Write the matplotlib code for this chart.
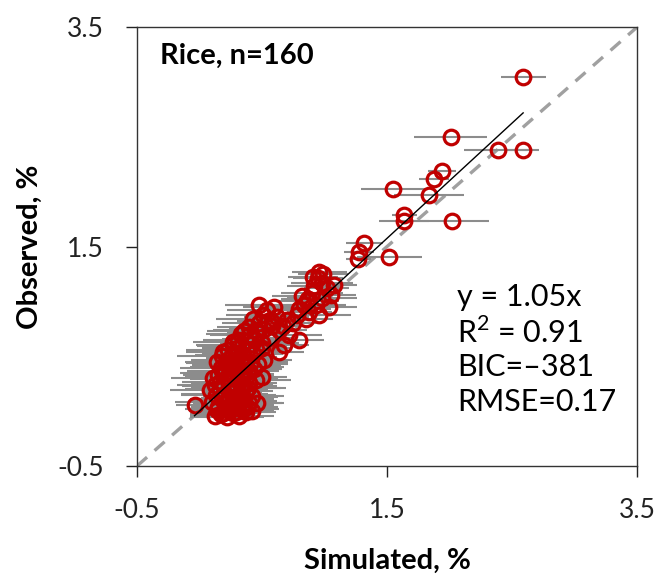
import numpy as np
import matplotlib
matplotlib.use("Agg")
import matplotlib.pyplot as plt

# simulated (x), observed (y), horizontal error (simulation spread)
sim_top = [2.59, 2.01, 2.39, 2.59, 1.94, 1.88, 1.55, 1.84, 1.64, 1.64,
           2.02, 1.32, 1.28, 1.27, 1.52, 0.96, 0.95]
obs_top = [3.05, 2.50, 2.38, 2.38, 2.19, 2.12, 2.03, 1.97, 1.79, 1.73,
           1.73, 1.53, 1.45, 1.39, 1.41, 1.27, 1.21]
err_top = [0.18, 0.29, 0.27, 0.13, 0.11, 0.12, 0.26, 0.28, 0.10, 0.20,
           0.30, 0.15, 0.12, 0.10, 0.26, 0.22, 0.20]

sim_mid = [0.98, 1.02, 0.92, 1.05, 0.90, 0.87, 0.98, 0.84, 0.93, 1.04,
           0.80, 0.88, 0.78, 0.96, 0.85, 1.08, 0.91, 0.82, 0.99, 0.86]
obs_mid = [1.17, 1.12, 1.14, 1.06, 1.08, 1.02, 1.03, 0.97, 0.97, 0.95,
           0.93, 0.90, 0.88, 0.88, 0.84, 1.15, 1.22, 1.05, 1.25, 1.00]
err_mid = [0.25, 0.18, 0.22, 0.20, 0.25, 0.22, 0.28, 0.20, 0.24, 0.22,
           0.25, 0.18, 0.20, 0.25, 0.22, 0.18, 0.20, 0.24, 0.20, 0.26]

sim_low = [0.12, 0.17, 0.22, 0.27, 0.32, 0.37, 0.42, 0.20, 0.30, 0.25,
           0.15, 0.10, 0.35, 0.40, 0.46, 0.28, 0.18, 0.23, 0.33, -0.04,
           0.13, 0.20, 0.26, 0.31, 0.37, 0.42, 0.08, 0.16, 0.29, 0.35,
           0.12, 0.19, 0.24, 0.40, 0.45, 0.11, 0.22, 0.32, 0.50, 0.28,
           0.15, 0.20, 0.26, 0.34, 0.40, 0.17, 0.30, 0.37, 0.44, 0.24,
           0.14, 0.21, 0.28, 0.33, 0.41, 0.47, 0.18, 0.26, 0.36, 0.52,
           0.19, 0.23, 0.30, 0.38, 0.45, 0.27, 0.34, 0.42, 0.50, 0.64,
           0.27, 0.31, 0.37, 0.44, 0.50, 0.56, 0.33, 0.40, 0.47, 0.68,
           0.36, 0.40, 0.45, 0.52, 0.58, 0.64, 0.72, 0.48, 0.55, 0.80,
           0.48, 0.51, 0.58, 0.62, 0.67, 0.54, 0.43, 0.60, 0.70, 0.75,
           0.24, 0.29, 0.34, 0.19, 0.14, 0.38, 0.26, 0.31, 0.21, 0.36,
           0.16, 0.22, 0.27, 0.33, 0.39, 0.25, 0.18, 0.29, 0.35, 0.43,
           0.23, 0.30, 0.37]
obs_low = [-0.04, -0.03, -0.05, -0.02, -0.04, -0.01, 0.00, 0.02, 0.03, 0.05,
           0.04, 0.08, 0.06, 0.07, 0.07, 0.09, 0.11, 0.12, 0.13, 0.06,
           0.15, 0.16, 0.17, 0.15, 0.18, 0.14, 0.19, 0.20, 0.21, 0.22,
           0.24, 0.25, 0.23, 0.26, 0.28, 0.30, 0.29, 0.27, 0.31, 0.32,
           0.33, 0.35, 0.36, 0.34, 0.37, 0.39, 0.40, 0.41, 0.38, 0.42,
           0.45, 0.44, 0.46, 0.48, 0.45, 0.43, 0.50, 0.51, 0.49, 0.47,
           0.54, 0.56, 0.53, 0.55, 0.57, 0.60, 0.59, 0.61, 0.58, 0.54,
           0.63, 0.65, 0.64, 0.66, 0.62, 0.67, 0.70, 0.69, 0.71, 0.60,
           0.73, 0.77, 0.74, 0.75, 0.78, 0.74, 0.69, 0.80, 0.82, 0.65,
           0.97, 0.88, 0.81, 0.86, 0.78, 0.92, 0.84, 0.95, 0.83, 0.80,
           0.00, -0.01, 0.02, -0.02, 0.01, 0.04, 0.08, 0.10, 0.07, 0.11,
           0.27, 0.31, 0.20, 0.24, 0.21, 0.39, 0.37, 0.44, 0.42, 0.52,
           0.47, 0.58, 0.30]
err_low = [0.20, 0.25, 0.30, 0.22, 0.28, 0.24, 0.18, 0.32, 0.26, 0.20,
           0.22, 0.30, 0.25, 0.28, 0.20, 0.34, 0.26, 0.22, 0.30, 0.15,
           0.28, 0.35, 0.24, 0.30, 0.22, 0.26, 0.32, 0.28, 0.36, 0.25,
           0.30, 0.26, 0.38, 0.22, 0.28, 0.34, 0.30, 0.25, 0.20, 0.32,
           0.28, 0.36, 0.30, 0.26, 0.24, 0.33, 0.38, 0.28, 0.22, 0.30,
           0.26, 0.32, 0.35, 0.28, 0.30, 0.24, 0.36, 0.30, 0.26, 0.22,
           0.30, 0.34, 0.28, 0.32, 0.25, 0.30, 0.36, 0.26, 0.24, 0.20,
           0.32, 0.28, 0.34, 0.26, 0.30, 0.22, 0.28, 0.32, 0.25, 0.20,
           0.30, 0.26, 0.34, 0.28, 0.24, 0.22, 0.26, 0.30, 0.25, 0.20,
           0.28, 0.30, 0.24, 0.26, 0.22, 0.32, 0.30, 0.25, 0.20, 0.22,
           0.24, 0.28, 0.30, 0.26, 0.22, 0.25, 0.30, 0.28, 0.26, 0.24,
           0.30, 0.34, 0.28, 0.26, 0.30, 0.32, 0.28, 0.30, 0.26, 0.24,
           0.30, 0.28, 0.26]

slope = 1.05
stats = ["y = 1.05x", "R$^2$ = 0.91", "BIC=\u2013381", "RMSE=0.17"]

x = np.array(sim_top + sim_mid + sim_low)
y = np.array(obs_top + obs_mid + obs_low)
xerr = np.array(err_top + err_mid + err_low)

plt.rcParams["font.family"] = ["Lato", "DejaVu Sans"]
plt.rcParams["mathtext.fontset"] = "custom"
plt.rcParams["mathtext.rm"] = "Lato"

fig = plt.figure(figsize=(6.62, 5.81), dpi=100)
ax = fig.add_axes([0.207, 0.198, 0.755, 0.755])

lim = (-0.5, 3.5)
ax.plot(lim, lim, color="#a0a0a0", ls=(0, (4, 3)), lw=2.4, zorder=1)
ax.errorbar(x, y, xerr=xerr, fmt="none", ecolor="#8c8c8c", elinewidth=1.5,
            capsize=0, zorder=2)
ax.plot(x, y, "o", mfc="none", mec="#c00000", mew=2.3, ms=10.5, zorder=3)
xs = np.array([x.min(), x.max()])
ax.plot(xs, slope * xs, color="black", lw=1.0, zorder=4)

ax.set_xlim(lim)
ax.set_ylim(lim)
ax.set_xticks([-0.5, 1.5, 3.5], ["-0.5", "1.5", "3.5"])
ax.set_yticks([-0.5, 1.5, 3.5], ["-0.5", "1.5", "3.5"])
ax.tick_params(direction="out", length=8, width=1, labelsize=19,
               colors="#222222")
ax.tick_params(axis="x", pad=15)
ax.tick_params(axis="y", pad=16)
for s in ax.spines.values():
    s.set_linewidth(1.0)
    s.set_color("#333333")

ax.set_xlabel("Simulated, %", fontsize=21, fontweight="bold", labelpad=18)
ax.set_ylabel("Observed, %", fontsize=21, fontweight="bold", labelpad=10)

ax.text(0.045, 0.935, "Rice, n=160", transform=ax.transAxes, fontsize=21,
        fontweight="bold", va="center", ha="left")
for i, s in enumerate(stats):
    ax.text(0.64, 0.385 - i * 0.08, s, transform=ax.transAxes, fontsize=22,
            va="center", ha="left")

fig.savefig("out.png", dpi=100)
